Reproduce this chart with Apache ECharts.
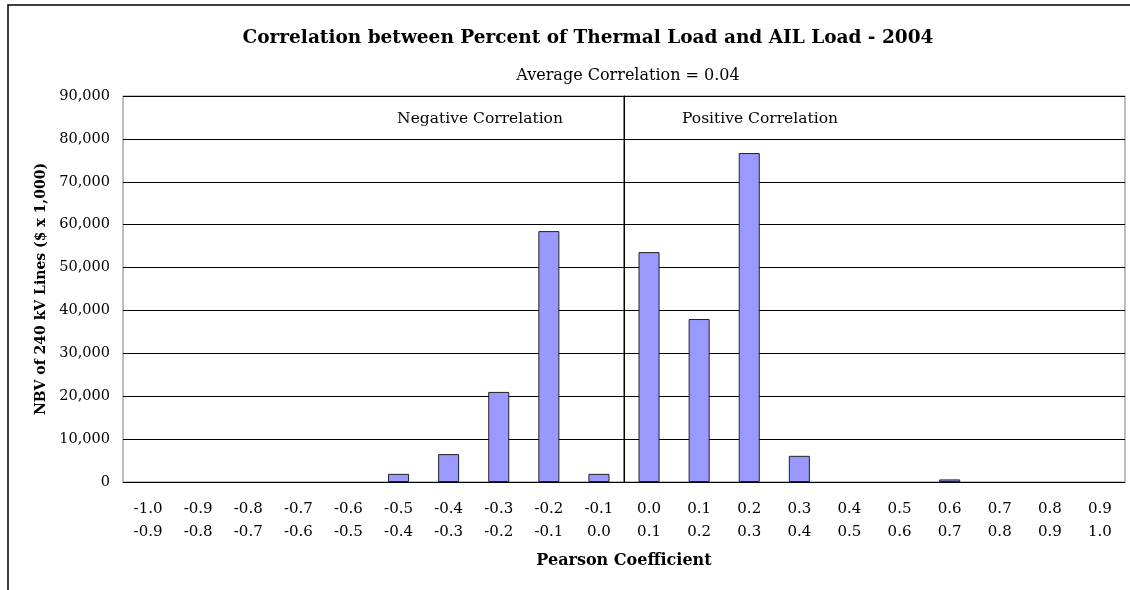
<!DOCTYPE html>
<html><head><meta charset="utf-8">
<script src="https://cdn.jsdelivr.net/npm/echarts@6/dist/echarts.min.js"></script>
<style>html,body{margin:0;padding:0;background:#fff}#c{width:1130px;height:590px}</style>
</head><body><div id="c"></div>
<script>
const lowerBounds = ['-1.0','-0.9','-0.8','-0.7','-0.6','-0.5','-0.4','-0.3','-0.2','-0.1','0.0','0.1','0.2','0.3','0.4','0.5','0.6','0.7','0.8','0.9'];
const upperBounds = ['-0.9','-0.8','-0.7','-0.6','-0.5','-0.4','-0.3','-0.2','-0.1','0.0','0.1','0.2','0.3','0.4','0.5','0.6','0.7','0.8','0.9','1.0'];
const nbvValues = [0,0,0,0,0,1900,6500,21000,58500,1900,53600,38000,76700,6100,0,0,600,0,0,0];
const dividerLine = [[0,0],[0,90000]];
const yTicks = {min:0, max:90000, interval:10000};

const categories = lowerBounds.map((l,i)=>l+'\n'+upperBounds[i]);
const barData = nbvValues.map(v => v === 0 ? {value:v, itemStyle:{borderWidth:0}} : v);
const FF = 'DejaVu Serif';
const chart = echarts.init(document.getElementById('c'));
chart.setOption({
  animation:false,
  backgroundColor:'#fff',
  textStyle:{fontFamily:FF},
  graphic:[{type:'rect',shape:{x:8,y:5,width:1200,height:700},style:{fill:'none',stroke:'#000',lineWidth:1.5},silent:true}],
  title:[
    {text:'Correlation between Percent of Thermal Load and AIL Load - 2004',left:583,textAlign:'center',top:24,textStyle:{fontFamily:FF,fontWeight:'bold',fontSize:18.5,color:'#000'}},
    {text:'Average Correlation = 0.04',left:623,textAlign:'center',top:63,textStyle:{fontFamily:FF,fontWeight:'normal',fontSize:16,color:'#000'}},
    {text:'Negative Correlation',left:475,textAlign:'center',top:106,textStyle:{fontFamily:FF,fontWeight:'normal',fontSize:15.5,color:'#000'}},
    {text:'Positive Correlation',left:755,textAlign:'center',top:106,textStyle:{fontFamily:FF,fontWeight:'normal',fontSize:15.5,color:'#000'}}
  ],
  grid:{left:123,right:5,top:96,bottom:108,show:true,borderColor:'#808080',borderWidth:1},
  xAxis:[{
    type:'category',data:categories,
    name:'Pearson Coefficient',nameLocation:'middle',nameGap:71,
    nameTextStyle:{fontFamily:FF,fontWeight:'bold',fontSize:16,color:'#000'},
    axisLine:{lineStyle:{color:'#000',width:1}},
    axisTick:{length:6,lineStyle:{color:'#000'}},
    axisLabel:{color:'#000',fontFamily:FF,fontSize:15,lineHeight:23,margin:16,interval:0}
  },{
    type:'value',min:-1,max:1,show:false
  }],
  yAxis:{
    type:'value',min:yTicks.min,max:yTicks.max,interval:yTicks.interval,
    name:'NBV of 240 kV Lines ($ x 1,000)',nameLocation:'middle',nameGap:74,
    nameTextStyle:{fontFamily:FF,fontWeight:'bold',fontSize:14,color:'#000'},
    axisLine:{show:true,lineStyle:{color:'#000'}},
    axisTick:{show:true,length:5,lineStyle:{color:'#000'}},
    axisLabel:{color:'#000',fontFamily:FF,fontSize:14.5,margin:13,formatter:v=>v.toLocaleString('en-US')},
    splitLine:{lineStyle:{color:'#000',width:1}}
  },
  series:[{
    type:'bar',data:barData,barCategoryGap:'58%',
    itemStyle:{color:'#9999FF',borderColor:'#222',borderWidth:1}
  },{
    type:'line',xAxisIndex:1,data:dividerLine,symbol:'none',
    lineStyle:{color:'#000',width:1},silent:true
  }]
});
</script></body></html>
